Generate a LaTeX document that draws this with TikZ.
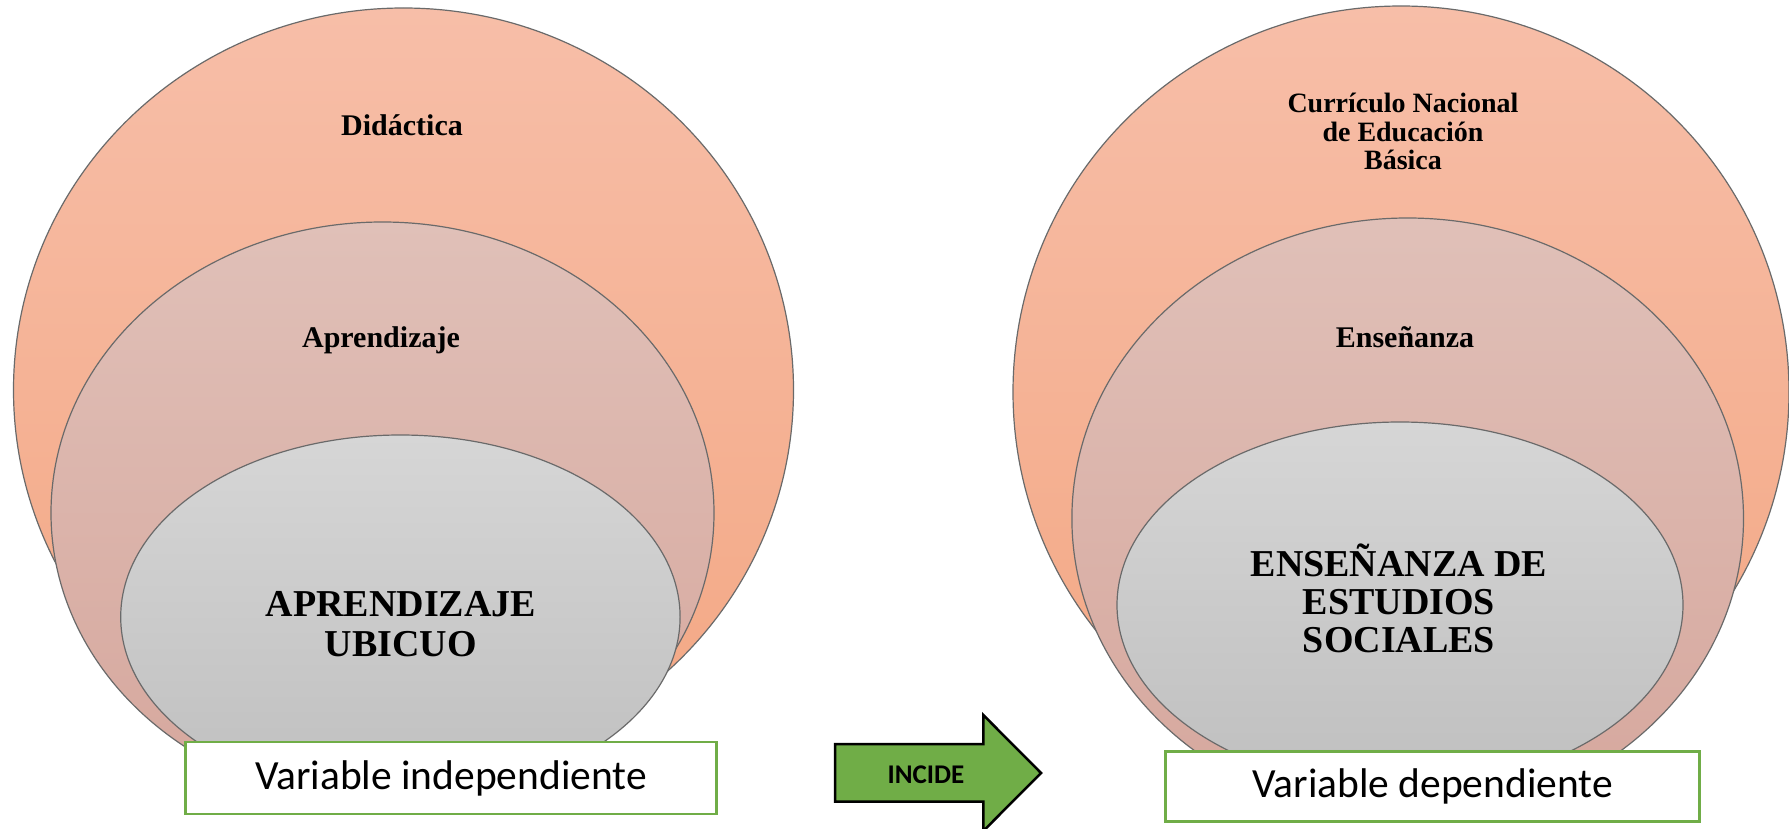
\documentclass[tikz,border=0pt]{standalone}
\usepackage{fontspec}
\setmainfont{Liberation Serif}
\newfontfamily\calib{Carlito}
\usetikzlibrary{shapes.geometric}
\definecolor{outerTop}{HTML}{F7BEA8}
\definecolor{outerBot}{HTML}{F3A783}
\definecolor{midTop}{HTML}{E0C0B8}
\definecolor{midBot}{HTML}{D6A79D}
\definecolor{innTop}{HTML}{D6D6D6}
\definecolor{innBot}{HTML}{BFBFBF}
\definecolor{ringline}{HTML}{6A6A6A}
\definecolor{boxgreen}{HTML}{70AD47}
\definecolor{arrowgreen}{HTML}{70AD47}
\begin{document}
\begin{tikzpicture}[x=0.5pt,y=-0.5pt,
  ring/.style={ellipse, draw=ringline, line width=0.6pt, inner sep=0pt, outer sep=0pt},
  outerring/.style={ring, top color=outerTop, bottom color=outerBot},
  midring/.style={ring, top color=midTop, bottom color=midBot},
  innring/.style={ring, top color=innTop, bottom color=innBot},
  lbl/.style={font=\bfseries\fontsize{15pt}{15pt}\selectfont, inner sep=0pt, anchor=base, align=center},
  varbox/.style={draw=boxgreen, line width=1.4pt, fill=white, inner sep=0pt,
    font=\calib\fontsize{20.75pt}{24pt}\selectfont}
]
\useasboundingbox (0,0) rectangle (1789,829);
\fill[white] (0,0) rectangle (1789,829);
\clip (0,0) rectangle (1789,829);

% left group
\node[outerring, minimum width=390pt, minimum height=382pt] (Lout) at (403.5,390) {};
\node[midring, minimum width=331.5pt, minimum height=291pt] (Lmid) at (382.5,513) {};
\node[innring, minimum width=279.7pt, minimum height=182pt] (Linn) at (400.4,617) {};
\node[lbl] (tDid) at (402,135) {Didáctica};
\node[lbl] (tApr) at (381,347) {Aprendizaje};
\node[font=\bfseries\fontsize{19pt}{20.35pt}\selectfont, inner sep=0pt, anchor=base, align=center] (tAU) at (401,656.7) {APRENDIZAJE\\UBICUO};

% right group
\node[outerring, minimum width=388pt, minimum height=386pt] (Rout) at (1401,392) {};
\node[midring, minimum width=335.8pt, minimum height=300.5pt] (Rmid) at (1407.7,518.5) {};
\node[innring, minimum width=283pt, minimum height=183pt] (Rinn) at (1400,605) {};
\node[font=\bfseries\fontsize{14pt}{14.15pt}\selectfont, inner sep=0pt, anchor=base, align=center] (tCur) at (1403,169.3) {Currículo Nacional\\de Educación\\Básica};
\node[lbl] (tEns) at (1405,347) {Enseñanza};
\node[font=\bfseries\fontsize{19pt}{19.1pt}\selectfont, inner sep=0pt, anchor=base, align=center] (tEES) at (1399,652.7) {ENSEÑANZA DE\\ESTUDIOS\\SOCIALES};

% variable boxes
\node[varbox, minimum width=265.5pt, minimum height=36pt] (Bl) at (451,778) {Variable independiente};
\node[varbox, minimum width=267pt, minimum height=35pt] (Br) at (1432.7,786.7) {Variable dependiente};

% arrow
\draw[fill=arrowgreen, draw=black, line width=1.25pt, line join=miter]
  (835,744) -- (983.3,744) -- (983.3,715) -- (1041,773) -- (983.3,831)
  -- (983.3,801.7) -- (835,801.7) -- cycle;
\node[font=\calib\bfseries\fontsize{13.5pt}{14pt}\selectfont, inner sep=0pt, anchor=base] (tInc) at (926,783.3) {INCIDE};
\end{tikzpicture}
\end{document}
